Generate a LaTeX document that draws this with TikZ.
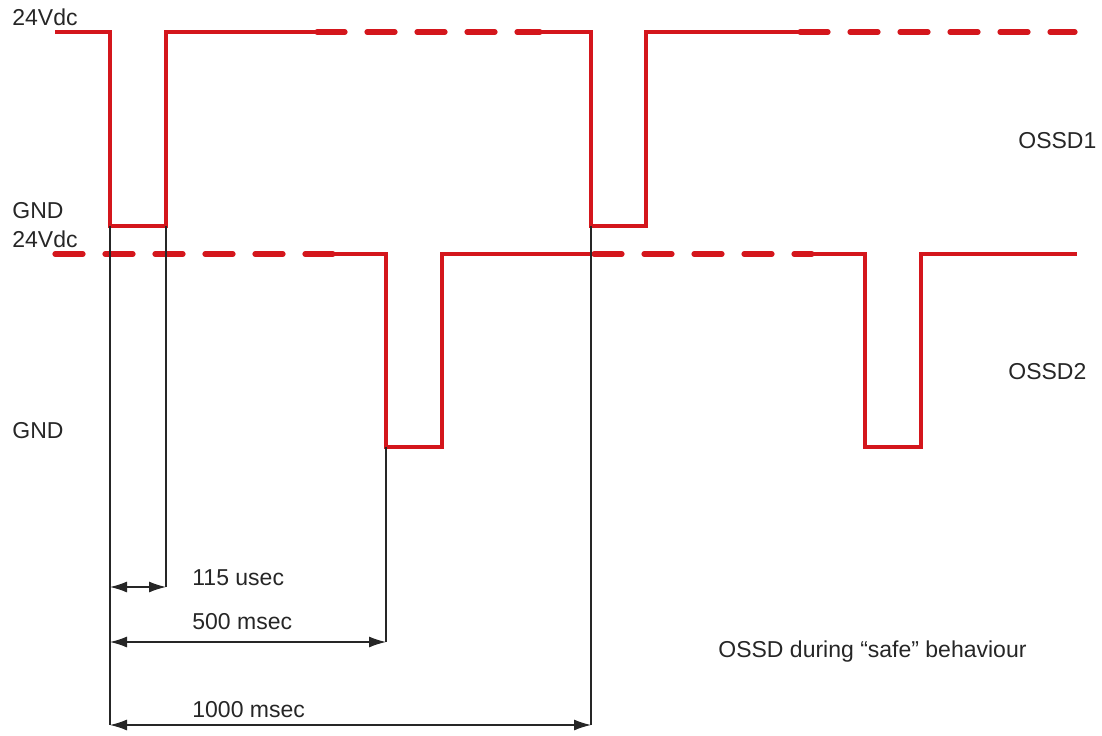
\documentclass[tikz,border=0pt]{standalone}
\usepackage{fontspec}
\setmainfont{Liberation Sans}
\usetikzlibrary{arrows.meta}
\definecolor{sigred}{RGB}{212,22,28}

\tikzset{
  sig/.style={sigred, line width=1.6pt, line join=miter},
  sigdash/.style={sigred, line width=2.6pt, dash pattern=on 14pt off 11pt, line cap=round},
  dimline/.style={black!85, line width=0.6pt},
  dimarrow/.style={black!85, line width=0.6pt, {Latex[length=8.5pt,width=5.5pt]}-{Latex[length=8.5pt,width=5.5pt]}},
  lbl/.style={font=\fontsize{11.5}{13}\selectfont, black!85, inner sep=0pt, anchor=base west},
}

\begin{document}
\begin{tikzpicture}[x=0.5pt, y=-0.5pt]
\useasboundingbox (0,0) rectangle (1102,735);

% === LEVEL LABELS ===
\node[lbl] (vdcA) at (12,25) {24Vdc};
\node[lbl] (gndA) at (12,218) {GND};
\node[lbl] (vdcB) at (12,247) {24Vdc};
\node[lbl] (gndB) at (12,438) {GND};
\node[lbl] (ossdA) at (1018,148) {OSSD1};
\node[lbl] (ossdB) at (1008,379) {OSSD2};

% ============================================================
% OSSD1 signal
% ============================================================
\coordinate (aFallA) at (110,226);
\coordinate (aRiseA) at (166,226);
\coordinate (aFallB) at (591,226);
\draw[sig] (55,32) -- (110,32) -- (aFallA) -- (aRiseA) -- (166,32) -- (320,32);
\draw[sigdash] (317,32) -- (540,32);
\draw[sig] (536,32) -- (591,32) -- (aFallB) -- (646,226) -- (646,32) -- (800,32);
\draw[sigdash] (800,32) -- (1075,32);

% ============================================================
% OSSD2 signal
% ============================================================
\coordinate (bFallA) at (386,447);
\draw[sigdash] (55,254) -- (333,254);
\draw[sig] (330,254) -- (386,254) -- (bFallA) -- (442,447) -- (442,254) -- (598,254);
\draw[sigdash] (594,254) -- (812,254);
\draw[sig] (808,254) -- (865,254) -- (865,447) -- (921,447) -- (921,254) -- (1077,254);

% ============================================================
% TIMING DIMENSIONS
% ============================================================
\coordinate (dA0) at (110,587);
\coordinate (dA1) at (166,587);
\coordinate (dB0) at (110,642);
\coordinate (dB1) at (386,642);
\coordinate (dC0) at (110,725);
\coordinate (dC1) at (591,725);

% extension lines
\draw[dimline] (aFallA) -- (dC0);
\draw[dimline] (aRiseA) -- (dA1);
\draw[dimline] (bFallA) -- (dB1);
\draw[dimline] (aFallB) -- (dC1);

% arrows
\draw[dimarrow] (dA0) -- (dA1);
\draw[dimarrow] (dB0) -- (dB1);
\draw[dimarrow] (dC0) -- (dC1);

\node[lbl] (tA) at (192,585) {115 usec};
\node[lbl] (tB) at (192,629) {500 msec};
\node[lbl] (tC) at (192,717) {1000 msec};

\node[lbl] (caption) at (718,657) {OSSD during “safe” behaviour};

\end{tikzpicture}
\end{document}
